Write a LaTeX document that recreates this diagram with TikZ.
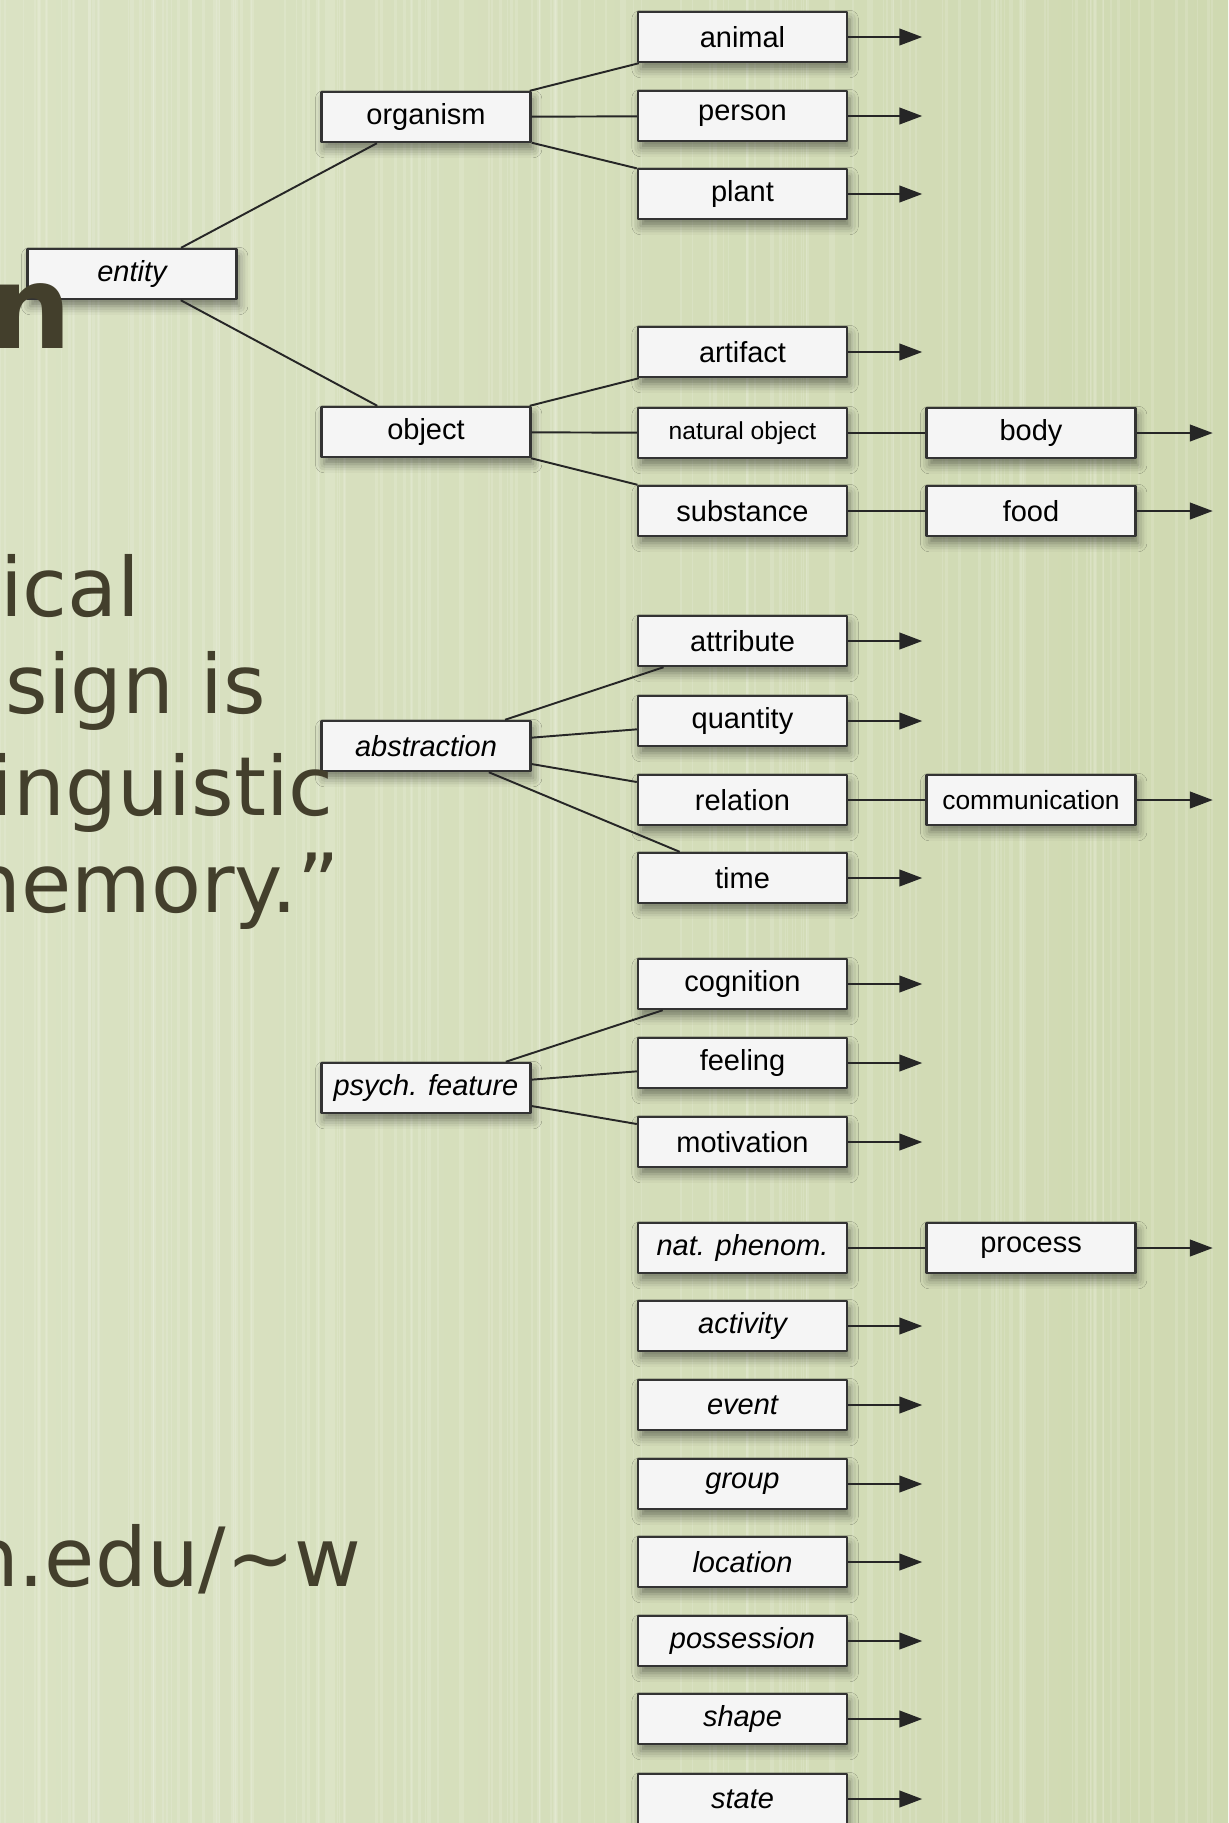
\documentclass[tikz,border=0pt]{standalone}
\usepackage{fontspec}
\setmainfont{Liberation Sans}
\newfontfamily\slidefont{DejaVu Sans}
\usetikzlibrary{arrows.meta,shadows.blur}
\definecolor{paper}{HTML}{D5DEBA}
\definecolor{paperlt}{HTML}{DAE2C3}
\definecolor{paperdk}{HTML}{CFD9B1}
\definecolor{ink}{HTML}{433F2C}
\definecolor{boxline}{HTML}{333333}

\begin{document}
\begin{tikzpicture}[x=0.02cm,y=-0.02cm,line join=round,
  syn/.style={draw=boxline,line width=1.4pt,fill=white!96!black,minimum width=4.18cm,
    minimum height=1.0cm,inner sep=0pt,font=\fontsize{16.5}{18}\selectfont,
    blur shadow={shadow xshift=1.5pt,shadow yshift=-4pt,shadow blur radius=5pt,shadow opacity=45}},
  isyn/.style={syn,font=\fontsize{16.5}{18}\selectfont\itshape},
  link/.style={draw=black!85,line width=1.1pt},
  arr/.style={draw=black!85,line width=1.1pt,-{Triangle[length=13pt,width=9.5pt]}},
  slide/.style={text=ink,inner sep=0pt,anchor=base east,font=\slidefont\fontsize{46.5}{55}\selectfont}]
  \useasboundingbox (0,0) rectangle (1228,1823);
  \clip (0,0) rectangle (1228,1823);
  \shade[left color=paperlt,right color=paperdk] (0,0) rectangle (1228,1823);
  \pgfmathsetseed{7}
  \foreach \i in {1,...,160}{
    \pgfmathsetmacro\xx{rnd*1228}
    \pgfmathsetmacro\ww{0.4+rnd*1.6}
    \draw[white,opacity=0.13,line width=\ww pt] (\xx,0) -- (\xx,1823);
  }

  % tree
  \node[isyn] (entity) at (132,274) {entity};
  \node[syn] (organism) at (426,117) {organism};
  \node[syn] (object) at (426,432) {object};
  \node[isyn] (abstraction) at (426,746) {abstraction};
  \node[isyn] (psych) at (426,1088) {psych. feature};

  \node[syn] (animal) at (742.5,37) {animal};
  \node[syn] (person) at (742.5,116) {person};
  \node[syn] (plant) at (742.5,194) {plant};
  \node[syn] (artifact) at (742.5,352) {artifact};
  \node[syn,font=\fontsize{14}{16}\selectfont] (natobj) at (742.5,433) {natural object};
  \node[syn] (substance) at (742.5,511) {substance};
  \node[syn] (attribute) at (742.5,641) {attribute};
  \node[syn] (quantity) at (742.5,721) {quantity};
  \node[syn] (relation) at (742.5,800) {relation};
  \node[syn] (time) at (742.5,878) {time};
  \node[syn] (cognition) at (742.5,984) {cognition};
  \node[syn] (feeling) at (742.5,1063) {feeling};
  \node[syn] (motivation) at (742.5,1142) {motivation};
  \node[isyn] (natphen) at (742.5,1248) {nat. phenom.};
  \node[isyn] (activity) at (742.5,1326) {activity};
  \node[isyn] (event) at (742.5,1405) {event};
  \node[isyn] (group) at (742.5,1484) {group};
  \node[isyn] (location) at (742.5,1562) {location};
  \node[isyn] (possession) at (742.5,1641) {possession};
  \node[isyn] (shape) at (742.5,1719) {shape};
  \node[isyn] (state) at (742.5,1799) {state};

  \node[syn] (body) at (1031,433) {body};
  \node[syn] (food) at (1031,511) {food};
  \node[syn,font=\fontsize{15}{17}\selectfont] (communication) at (1031,800) {communication};
  \node[syn] (process) at (1031,1248) {process};

  \draw[link] (entity) -- (organism);
  \draw[link] (entity) -- (object);
  \foreach \n in {animal,person,plant} \draw[link] (organism) -- (\n);
  \foreach \n in {artifact,natobj,substance} \draw[link] (object) -- (\n);
  \foreach \n in {attribute,quantity,relation,time} \draw[link] (abstraction) -- (\n);
  \foreach \n in {cognition,feeling,motivation} \draw[link] (psych) -- (\n);
  \draw[link] (natobj) -- (body);
  \draw[link] (substance) -- (food);
  \draw[link] (relation) -- (communication);
  \draw[link] (natphen) -- (process);

  \foreach \n in {animal,person,plant,artifact,attribute,quantity,time,cognition,
    feeling,motivation,activity,event,group,location,possession,shape,state}
    \draw[arr] (\n.east) -- ++(74,0);
  \foreach \n in {body,food,communication,process}
    \draw[arr] (\n.east) -- ++(76,0);

  % slide text behind the crop
  \node[slide,font=\slidefont\fontsize{66}{78}\selectfont\bfseries] (title) at (72,348) {n};
  \node[slide] (l1) at (141,616) {ical};
  \node[slide] (l2) at (266,713) {sign is};
  \node[slide] (l3) at (334,815) {inguistic};
  \node[slide] (l4) at (340,912) {nemory.”};
  \node[slide] (url) at (362,1586) {n.edu/\textasciitilde w};
\end{tikzpicture}
\end{document}
